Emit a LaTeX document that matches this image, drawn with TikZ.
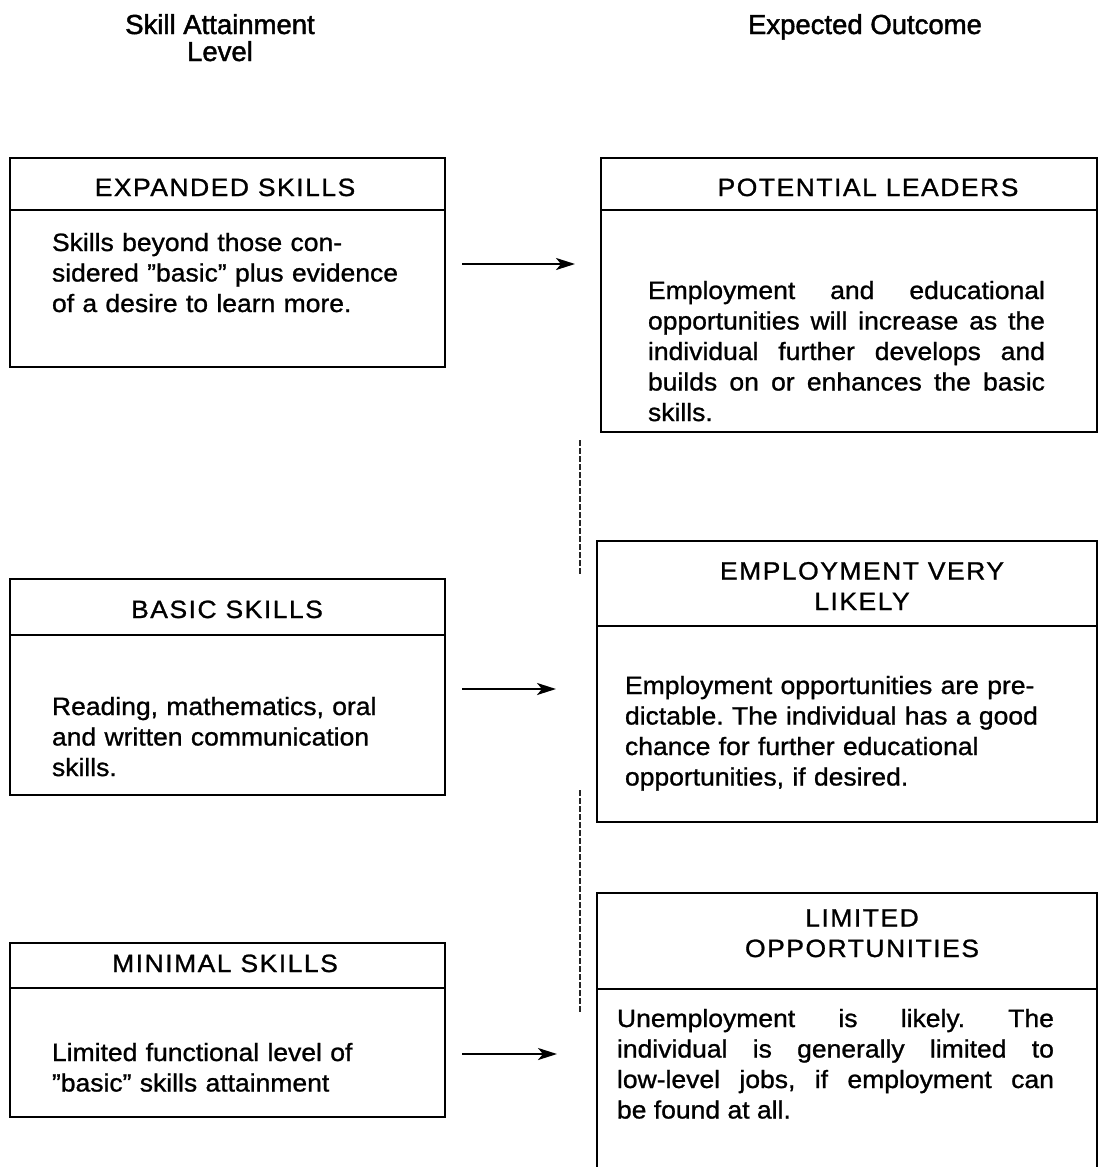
\documentclass[tikz,border=0pt]{standalone}
\usepackage{fontspec}
\setmainfont{Liberation Sans}[FakeStretch=1.06,FakeBold=1.0]
\newfontfamily\hdrfont{Liberation Sans}[FakeStretch=1.06,FakeBold=1.0,LetterSpace=6]
\newfontfamily\titlefont{Liberation Sans}[FakeStretch=1.0,FakeBold=1.6]
\usetikzlibrary{arrows.meta}
\begin{document}
\frenchspacing
\begin{tikzpicture}[x=1pt,y=-1pt,
 box/.style={draw, line width=2.8pt, inner sep=0pt, outer sep=0pt, anchor=north west},
 txt/.style={font=\fontsize{25}{30.5}\selectfont, inner sep=0pt, outer sep=0pt},
 hdr/.style={font=\hdrfont\fontsize{25}{30.5}\selectfont, inner sep=0pt, outer sep=0pt, align=center, anchor=base},
 ttl/.style={font=\titlefont\fontsize{27.5}{27}\selectfont, inner sep=0pt, outer sep=0pt, align=center, anchor=base},
 body/.style={txt, anchor=base west, text width=#1, align=left},
 jbody/.style={txt, anchor=base west, text width=#1, align=justify},
 rule/.style={line width=2.8pt},
 arr/.style={line width=2.5pt, -{Stealth[length=19pt,width=12pt,inset=5pt]}},
 scan/.style={line width=1.3pt, black!85, dash pattern=on 6pt off 2pt}]
\useasboundingbox (0,0) rectangle (1103,1167);

% column titles
\node[ttl] (t1) at (220,61) {Skill Attainment\\Level};
\node[ttl] (t2) at (865,34) {Expected Outcome};

% left boxes
\node[box, minimum width=435pt, minimum height=209pt] (L1) at (10,158) {};
\draw[rule] (L1.north west) ++(0,52) -- ++(435,0);
\node[hdr] (L1h) at (225,196) {EXPANDED SKILLS};
\node[body=385pt] (L1t) at (52,251) {Skills beyond those con-\\sidered ''basic'' plus evidence\\of a desire to learn more.};

\node[box, minimum width=435pt, minimum height=216pt] (L2) at (10,579) {};
\draw[rule] (L2.north west) ++(0,56) -- ++(435,0);
\node[hdr] (L2h) at (227,618) {BASIC SKILLS};
\node[body=385pt] (L2t) at (52,715) {Reading, mathematics, oral\\and written communication\\skills.};

\node[box, minimum width=435pt, minimum height=174pt] (L3) at (10,943) {};
\draw[rule] (L3.north west) ++(0,45) -- ++(435,0);
\node[hdr] (L3h) at (225,972) {MINIMAL SKILLS};
\node[body=385pt] (L3t) at (52,1061) {Limited functional level of\\''basic'' skills attainment};

% right boxes
\node[box, minimum width=496pt, minimum height=274pt] (R1) at (601,158) {};
\draw[rule] (R1.north west) ++(0,52) -- ++(496,0);
\node[hdr] (R1h) at (868,196) {POTENTIAL LEADERS};
\node[jbody=397pt] (R1t) at (648,299) {Employment and educational\linebreak opportunities will increase as the\linebreak individual further develops and\linebreak builds on or enhances the basic\linebreak skills.};

\node[box, minimum width=500pt, minimum height=281pt] (R2) at (597,541) {};
\draw[rule] (R2.north west) ++(0,85) -- ++(500,0);
\node[hdr] (R2h) at (862,610) {EMPLOYMENT VERY\\LIKELY};
\node[body=450pt] (R2t) at (625,694) {Employment opportunities are pre-\\dictable. The individual has a good\\chance for further educational\\opportunities, if desired.};

\node[box, minimum width=500pt, minimum height=280pt] (R3) at (597,893) {};
\draw[rule] (R3.north west) ++(0,96) -- ++(500,0);
\node[hdr] (R3h) at (862,957) {LIMITED\\OPPORTUNITIES};
\node[jbody=437pt] (R3t) at (617,1027) {Unemployment is likely. The\linebreak individual is generally limited to\linebreak low-level jobs, if employment can\linebreak be found at all.};

% arrows
\coordinate (a1s) at (462,264); \coordinate (a1e) at (575,264);
\coordinate (a2s) at (462,689); \coordinate (a2e) at (556,689);
\coordinate (a3s) at (462,1054); \coordinate (a3e) at (557,1054);
\draw[arr] (a1s) -- (a1e);
\draw[arr] (a2s) -- (a2e);
\draw[arr] (a3s) -- (a3e);

% faint broken vertical line (scan trace)
\coordinate (v1) at (580,440); \coordinate (v2) at (580,575);
\coordinate (v3) at (580,790); \coordinate (v4) at (580,1012);
\draw[scan] (v1) -- (v2);
\draw[scan] (v3) -- (v4);
\end{tikzpicture}
\end{document}
